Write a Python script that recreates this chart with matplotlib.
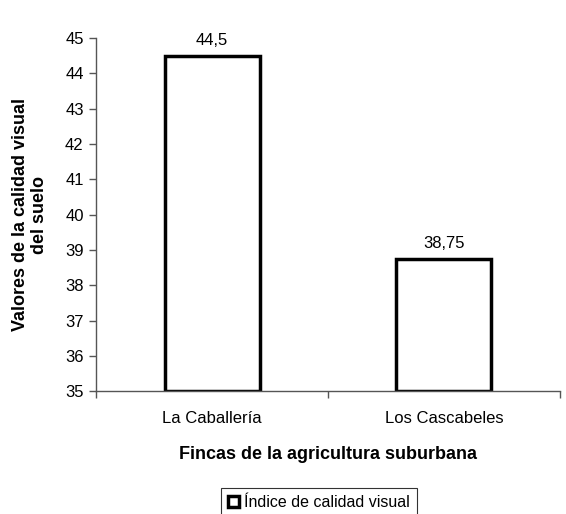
import matplotlib
matplotlib.use("Agg")
from matplotlib import pyplot as plt
import numpy as np

fincas = ["La Caballería", "Los Cascabeles"]
valores = [44.5, 38.75]
etiquetas = ["44,5", "38,75"]
yticks = [35, 36, 37, 38, 39, 40, 41, 42, 43, 44, 45]

plt.rcParams['font.family'] = ['Liberation Sans', 'DejaVu Sans']
plt.rcParams['font.size'] = 12

fig = plt.figure(figsize=(5.66, 5.14), dpi=100)
ax = fig.add_axes([0.170, 0.239, 0.819, 0.687])

x = np.arange(len(fincas))
bars = ax.bar(x, np.array(valores) - 35, bottom=35, width=0.41,
              color='white', edgecolor='black', linewidth=2.5,
              label='Índice de calidad visual')

for xi, v, t in zip(x, valores, etiquetas):
    ax.text(xi, v + 0.22, t, ha='center', va='bottom', fontsize=12)

ax.set_xlim(-0.5, 1.5)
ax.set_ylim(35, 45)
ax.set_yticks(yticks)
ax.set_xticks([-0.5, 0.5, 1.5])
ax.set_xticklabels([])
ax.set_xticks(x, minor=True)
ax.set_xticklabels(fincas, minor=True)
ax.tick_params(axis='x', which='minor', length=0, pad=14)
ax.tick_params(axis='both', which='major', length=5, color='#555555', width=1)
ax.tick_params(axis='y', pad=4)

for s in ['top', 'right']:
    ax.spines[s].set_visible(False)
for s in ['left', 'bottom']:
    ax.spines[s].set_color('#555555')
    ax.spines[s].set_linewidth(1)

ax.set_xlabel('Fincas de la agricultura suburbana', fontweight='bold',
              fontsize=13, labelpad=15)
ax.set_ylabel('Valores de la calidad visual\ndel suelo', fontweight='bold',
              fontsize=13, labelpad=12, multialignment='center')

leg = fig.legend(loc='upper center', bbox_to_anchor=(0.563, 0.066),
                 frameon=True, fancybox=False, edgecolor='black',
                 handlelength=0.7, handleheight=0.7, handletextpad=0.3,
                 borderpad=0.45, fontsize=11.5)
leg.get_frame().set_linewidth(0.8)

fig.savefig('out.png', dpi=100)
